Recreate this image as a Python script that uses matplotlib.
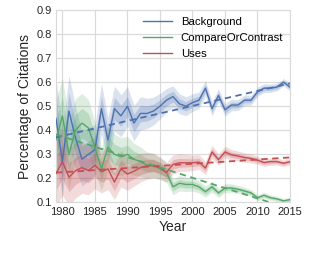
import numpy as np
import matplotlib
matplotlib.use("Agg")
import matplotlib.pyplot as plt

years = list(range(1979, 2016))

background = [0.45, 0.27, 0.48, 0.37, 0.28, 0.30, 0.32, 0.49, 0.36, 0.49,
              0.46, 0.50, 0.43, 0.47, 0.47, 0.48, 0.50, 0.525, 0.54, 0.51,
              0.50, 0.515, 0.525, 0.575, 0.49, 0.545, 0.485, 0.505, 0.505, 0.525,
              0.525, 0.56, 0.575, 0.575, 0.58, 0.60, 0.58]

compare = [0.36, 0.46, 0.30, 0.40, 0.43, 0.41, 0.33, 0.24, 0.33, 0.30,
           0.29, 0.30, 0.28, 0.27, 0.255, 0.255, 0.24, 0.225, 0.165, 0.18,
           0.175, 0.175, 0.165, 0.145, 0.165, 0.14, 0.16, 0.16, 0.155, 0.148,
           0.14, 0.12, 0.13, 0.12, 0.115, 0.107, 0.112]

uses = [0.22, 0.27, 0.205, 0.232, 0.245, 0.233, 0.255, 0.228, 0.24, 0.185,
        0.24, 0.218, 0.23, 0.245, 0.252, 0.253, 0.245, 0.225, 0.258, 0.265,
        0.265, 0.265, 0.268, 0.243, 0.31, 0.278, 0.31, 0.298, 0.293, 0.287,
        0.283, 0.276, 0.266, 0.27, 0.27, 0.263, 0.27]

# number of citations per year (drives the width of the confidence bands)
n_citations = [35, 40, 45, 55, 65, 70, 80, 90, 100, 115,
               130, 150, 180, 210, 250, 300, 350, 420, 500, 580,
               650, 750, 850, 950, 1100, 1300, 1500, 1700, 1900, 2100,
               2400, 2700, 3000, 3300, 3700, 4100, 4000]

labels = ["Background", "CompareOrContrast", "Uses"]
colors = ["#4C72B0", "#55A868", "#C44E52"]

plt.rcParams['font.family'] = ['Liberation Sans', 'DejaVu Sans']

fig = plt.figure(figsize=(3.09, 2.56), dpi=100)
ax = fig.add_axes([0.181, 0.209, 0.7575, 0.752])
ax.set_facecolor("white")

x = np.array(years, dtype=float)
n = np.array(n_citations, dtype=float)
handles = []
for vals, col, lab in zip([background, compare, uses], colors, labels):
    p = np.array(vals)
    se = np.sqrt(p * (1 - p) / n)
    ax.fill_between(x, p - 2 * se, p + 2 * se, color=col, alpha=0.2, lw=0, zorder=2)
    ax.fill_between(x, p - se, p + se, color=col, alpha=0.25, lw=0, zorder=2)
    h, = ax.plot(x, p, color=col, lw=1.0, zorder=3, label=lab)
    handles.append(h)
    k, b = np.polyfit(x, p, 1)
    ax.plot(x, k * x + b, color=col, lw=1.3, ls=(0, (3.5, 2.5)), zorder=4)

ax.set_xlim(1979, 2015)
ax.set_ylim(0.1, 0.9)
ax.set_xticks([1980, 1985, 1990, 1995, 2000, 2005, 2010, 2015])
ax.set_yticks([0.1, 0.2, 0.3, 0.4, 0.5, 0.6, 0.7, 0.8, 0.9])
ax.set_yticklabels(["0.1", "0.2", "0.3", "0.4", "0.5", "0.6", "0.7", "0.8", "0.9"])
ax.grid(True, color="#d9d9d9", lw=0.8, zorder=0)
ax.set_axisbelow(True)
for s in ax.spines.values():
    s.set_color("#d9d9d9")
    s.set_linewidth(0.8)
ax.tick_params(length=0, labelsize=8, colors="#262626")
ax.tick_params(axis="x", pad=3.5)
ax.tick_params(axis="y", pad=3)
ax.set_xlabel("Year", fontsize=10, labelpad=2, color="#262626")
ax.set_ylabel("Percentage of Citations", fontsize=10, labelpad=3, color="#262626")

ax.legend(handles=handles, loc="upper right", frameon=False, fontsize=8.2,
          handlelength=2.5, handletextpad=0.8, labelspacing=0.55,
          borderaxespad=0.2, bbox_to_anchor=(1.0, 1.0))

fig.savefig("out.png", dpi=100)
